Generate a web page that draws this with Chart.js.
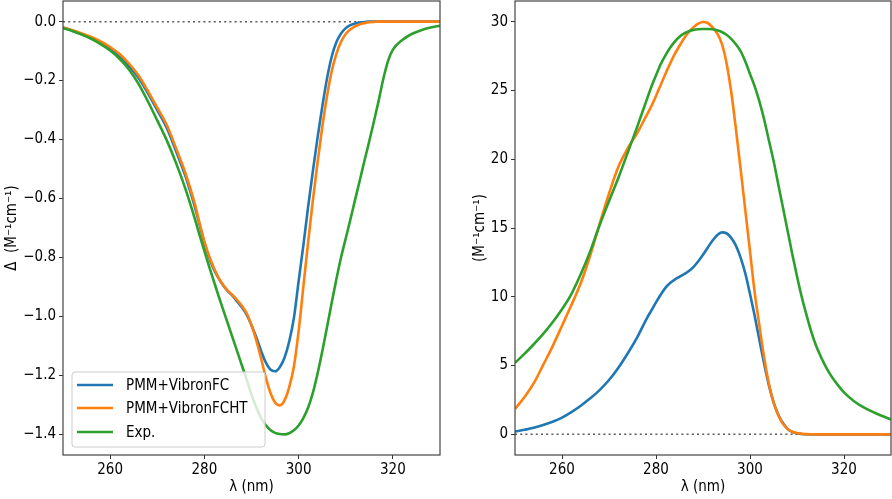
<!DOCTYPE html>
<html>
<head>
<meta charset="utf-8">
<script src="https://cdn.jsdelivr.net/npm/chart.js@4.4.1/dist/chart.umd.min.js"></script>
<style>
  html, body { margin: 0; padding: 0; background: #fff; width: 892px; height: 499px; overflow: hidden; }
  canvas { position: absolute; top: 0; }
  #left { left: 0; }
  #right { left: 446px; }
</style>
</head>
<body>
<canvas id="left" width="446" height="499"></canvas>
<canvas id="right" width="446" height="499"></canvas>
<script>
// ---------------- data ----------------
const wavelength = [
  250,252,254,256,258,260,262,264,266,268,270,272,274,276,278,
  279,280,281,282,283,284,285,286,287,288,289,290,291,292,293,294,295,296,297,298,
  299,300,301,302,303,304,305,306,307,308,309,310,311,312,313,314,315,316,317,318,319,320,
  322,324,326,328,330
];
const seriesLabels = ['PMM+VibronFC', 'PMM+VibronFCHT', 'Exp.'];

// Left panel: CD
const cdFC = [
  -0.020,-0.031,-0.043,-0.056,-0.072,-0.092,-0.118,-0.150,-0.190,-0.242,-0.300,-0.360,-0.440,-0.525,-0.630,
  -0.690,-0.750,-0.800,-0.840,-0.870,-0.895,-0.915,-0.930,-0.950,-0.970,-0.995,-1.030,-1.070,-1.115,-1.155,-1.180,-1.186,-1.172,-1.140,-1.085,
  -1.005,-0.880,-0.760,-0.630,-0.510,-0.395,-0.290,-0.195,-0.120,-0.070,-0.040,-0.022,-0.012,-0.006,-0.003,-0.001,0,0,0,0,0,0,
  0,0,0,0,0
];
const cdFCHT = [
  -0.019,-0.029,-0.040,-0.052,-0.067,-0.086,-0.110,-0.142,-0.182,-0.235,-0.292,-0.350,-0.430,-0.515,-0.620,
  -0.685,-0.745,-0.795,-0.835,-0.868,-0.893,-0.913,-0.928,-0.945,-0.965,-0.990,-1.030,-1.080,-1.140,-1.205,-1.258,-1.292,-1.302,-1.285,-1.240,
  -1.170,-1.050,-0.900,-0.750,-0.610,-0.480,-0.360,-0.255,-0.170,-0.110,-0.068,-0.042,-0.026,-0.016,-0.009,-0.005,-0.002,-0.001,0,0,0,0,
  0,0,0,0,0
];
const cdExp = [
  -0.022,-0.032,-0.044,-0.058,-0.076,-0.098,-0.126,-0.162,-0.210,-0.270,-0.335,-0.402,-0.480,-0.568,-0.670,
  -0.725,-0.778,-0.830,-0.880,-0.930,-0.978,-1.025,-1.073,-1.120,-1.168,-1.215,-1.265,-1.308,-1.343,-1.368,-1.385,-1.395,-1.399,-1.400,-1.396,
  -1.386,-1.370,-1.345,-1.310,-1.260,-1.195,-1.120,-1.038,-0.955,-0.875,-0.800,-0.735,-0.670,-0.603,-0.537,-0.470,-0.405,-0.337,-0.267,-0.192,-0.132,-0.095,
  -0.062,-0.042,-0.029,-0.020,-0.014
];

// Right panel: absorption
const absFC = [
  0.20,0.33,0.48,0.68,0.92,1.22,1.62,2.08,2.62,3.22,3.95,4.85,5.90,7.05,8.40,
  9.00,9.60,10.15,10.65,11.00,11.25,11.45,11.65,11.88,12.18,12.58,13.05,13.57,14.07,14.47,14.68,14.62,14.28,13.72,12.85,
  11.70,10.20,8.60,6.85,5.15,3.60,2.35,1.45,0.82,0.40,0.18,0.07,0.03,0.01,0,0,0,0,0,0,0,0,
  0,0,0,0,0
];
const absFCHT = [
  1.85,2.70,3.72,5.05,6.40,7.90,9.40,11.00,13.00,15.30,17.50,19.45,20.80,21.90,23.20,
  23.85,24.60,25.40,26.20,26.95,27.65,28.25,28.80,29.25,29.60,29.85,29.97,29.90,29.60,29.15,28.40,27.00,24.90,22.20,19.30,
  16.30,13.30,10.30,7.90,5.60,3.70,2.35,1.40,0.78,0.40,0.19,0.09,0.04,0.015,0.005,0,0,0,0,0,0,0,
  0,0,0,0,0
];
const absExp = [
  5.20,5.85,6.55,7.30,8.15,9.10,10.20,11.65,13.30,15.20,16.95,18.65,20.50,22.35,24.30,
  25.25,26.10,26.90,27.55,28.10,28.55,28.90,29.15,29.30,29.40,29.45,29.47,29.47,29.45,29.38,29.25,29.05,28.75,28.35,27.85,
  27.10,26.20,25.30,24.20,22.90,21.40,19.90,18.20,16.50,14.80,13.10,11.50,10.00,8.70,7.50,6.50,5.70,5.00,4.40,3.90,3.45,3.05,
  2.45,2.00,1.65,1.35,1.08
];

const zeroLineX = [250, 330];
const zeroLineY = [0, 0];

const xTicks = [260, 280, 300, 320];
const cdTicks = [0.0, -0.2, -0.4, -0.6, -0.8, -1.0, -1.2, -1.4];
const absTicks = [0, 5, 10, 15, 20, 25, 30];

// ---------------- styling ----------------
const FONT_FAMILY = "'DejaVu Sans Condensed', 'DejaVu Sans', sans-serif";
const colors = ['#1f77b4', '#ff7f0e', '#2ca02c'];
const tickFont = { family: FONT_FAMILY, size: 15 };

function pts(xs, ys) { return xs.map((x, i) => ({ x: x, y: ys[i] })); }

const framePlugin = {
  id: 'frame',
  afterDraw(chart) {
    const a = chart.chartArea, ctx = chart.ctx;
    ctx.save();
    ctx.strokeStyle = '#444';
    ctx.lineWidth = 1.2;
    ctx.strokeRect(a.left, a.top, a.right - a.left, a.bottom - a.top);
    ctx.restore();
  }
};

const boxLegendPlugin = {
  id: 'boxLegend',
  afterDatasetsDraw(chart, args, opts) {
    if (!opts || !opts.show) return;
    const a = chart.chartArea, ctx = chart.ctx;
    const x0 = a.left + 9, y1 = a.bottom - 8;
    const w = 193, h = 75;
    const y0 = y1 - h;
    ctx.save();
    ctx.beginPath();
    if (ctx.roundRect) ctx.roundRect(x0, y0, w, h, 3); else ctx.rect(x0, y0, w, h);
    ctx.fillStyle = 'rgba(255,255,255,0.8)';
    ctx.fill();
    ctx.strokeStyle = '#cccccc';
    ctx.lineWidth = 1;
    ctx.stroke();
    ctx.font = "15px " + FONT_FAMILY;
    ctx.textBaseline = 'middle';
    ctx.fillStyle = '#000';
    const rows = [13, 36, 60];
    seriesLabels.forEach((lab, i) => {
      const yy = y0 + rows[i];
      ctx.strokeStyle = colors[i];
      ctx.lineWidth = 2.6;
      ctx.beginPath();
      ctx.moveTo(x0 + 5, yy);
      ctx.lineTo(x0 + 41, yy);
      ctx.stroke();
      ctx.fillText(lab, x0 + 54, yy + 1);
    });
    ctx.restore();
  }
};

function fmtNum(v, dec) {
  let s = (Math.abs(v) < 1e-9 ? 0 : v).toFixed(dec);
  return s.replace('-', '\u2212');
}

function makeChart(id, ys, yMin, yMax, yTickVals, yDec, yTitle, yWidth, padRight, titlePad, legend) {
  const datasets = [
    { label: 'zero', data: pts(zeroLineX, zeroLineY), borderColor: 'rgba(60,60,60,0.85)', borderWidth: 1.5,
      borderDash: [2, 3.2], pointRadius: 0, order: 4, clip: 0, tension: 0 }
  ];
  ys.forEach((arr, i) => {
    datasets.push({
      label: seriesLabels[i], data: pts(wavelength, arr), borderColor: colors[i], borderWidth: 2.6,
      pointRadius: 0, cubicInterpolationMode: 'monotone', order: 3 - i, clip: 0, fill: false
    });
  });
  return new Chart(document.getElementById(id), {
    type: 'line',
    data: { datasets: datasets },
    options: {
      responsive: false,
      animation: false,
      events: [],
      layout: { padding: { top: 1, right: padRight, left: 0, bottom: 0 } },
      plugins: { legend: { display: false }, tooltip: { enabled: false }, boxLegend: { show: legend } },
      scales: {
        x: {
          type: 'linear', min: 250, max: 330,
          afterBuildTicks: s => { s.ticks = xTicks.map(v => ({ value: v })); },
          afterFit: s => { s.height = 44; s.paddingLeft = 0; s.paddingRight = 0; },
          ticks: { font: tickFont, color: '#000', padding: 2, maxRotation: 0, callback: v => String(v) },
          grid: { display: true, drawOnChartArea: false, drawTicks: true, tickLength: 4, color: '#333', lineWidth: 1 },
          border: { display: false },
          title: { display: true, text: '\u03bb (nm)', font: { family: FONT_FAMILY, size: 15 }, color: '#000', padding: { top: 0, bottom: 3 } }
        },
        y: {
          type: 'linear', min: yMin, max: yMax,
          afterBuildTicks: s => { s.ticks = yTickVals.map(v => ({ value: v })); },
          afterFit: s => { s.width = yWidth; s.paddingTop = 0; s.paddingBottom = 0; },
          ticks: { font: tickFont, color: '#000', padding: 3, callback: v => fmtNum(v, yDec) },
          grid: { display: true, drawOnChartArea: false, drawTicks: true, tickLength: 4, color: '#333', lineWidth: 1 },
          border: { display: false },
          title: { display: true, text: yTitle, font: { family: FONT_FAMILY, size: 15 }, color: '#000', padding: { top: titlePad, bottom: 0 } }
        }
      }
    },
    plugins: [boxLegendPlugin, framePlugin]
  });
}

makeChart('left', [cdFC, cdFCHT, cdExp], -1.47, 0.07, cdTicks, 1, '\u0394  (M\u207b\u00b9cm\u207b\u00b9)', 63, 6, 3, true);
makeChart('right', [absFC, absFCHT, absExp], -1.5, 31.5, absTicks, 0, '(M\u207b\u00b9cm\u207b\u00b9)', 69, 1, 25, false);
</script>
</body>
</html>
